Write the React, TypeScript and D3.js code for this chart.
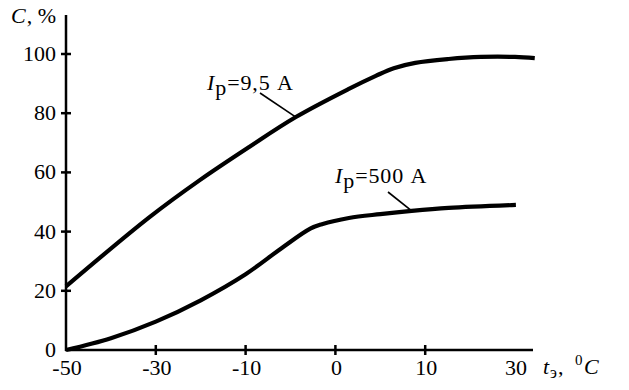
import React, { useEffect, useRef } from "react";
import * as d3 from "d3";

// x is the position along the (unevenly labelled) temperature axis, in tick steps
const xTickLabels = ["-50", "-30", "-10", "0", "10", "30"];
const yTicks = [0, 20, 40, 60, 80, 100];

// I_p = 9,5 A
const lowCurrentX = [0, 0.93, 1.49, 2.04, 2.56, 3.15, 3.45, 3.65, 3.89, 4.26, 4.62, 5.0, 5.22];
const lowCurrentC = [21.5, 44.9, 57.4, 68.6, 78.7, 88.2, 92.6, 95.2, 97.0, 98.3, 99.0, 99.0, 98.6];

// I_p = 500 A
const highCurrentX = [0, 0.5, 1.0, 1.5, 2.0, 2.4, 2.72, 2.85, 3.15, 3.5, 3.85, 4.26, 5.01];
const highCurrentC = [0, 4.0, 9.6, 16.8, 25.6, 34.4, 41.0, 42.5, 44.6, 45.9, 47.0, 48.0, 49.0];

const W = 629;
const H = 390;
const font = "Liberation Serif";

export default function App() {
  const ref = useRef<SVGSVGElement>(null);

  useEffect(() => {
    const svg = d3.select(ref.current);
    svg.selectAll("*").remove();

    const x = d3.scaleLinear().domain([0, 5]).range([66, 515]);
    const y = d3.scaleLinear().domain([0, 100]).range([350, 54]);

    const g = svg.append("g")
      .style("font-family", font)
      .style("font-size", "22px")
      .attr("fill", "#000");

    // axes
    g.append("line")
      .attr("x1", x(0)).attr("x2", x(0))
      .attr("y1", 15).attr("y2", y(0) + 1)
      .attr("stroke", "#000").attr("stroke-width", 2.5);
    g.append("line")
      .attr("x1", x(0) - 1).attr("x2", 533)
      .attr("y1", y(0)).attr("y2", y(0))
      .attr("stroke", "#000").attr("stroke-width", 2.5);

    yTicks.forEach((t) => {
      if (t > 0) {
        g.append("line")
          .attr("x1", x(0) - 5).attr("x2", x(0) + 5)
          .attr("y1", y(t)).attr("y2", y(t))
          .attr("stroke", "#000").attr("stroke-width", 2.5);
      }
      g.append("text")
        .attr("x", 56).attr("y", y(t) + 7)
        .attr("text-anchor", "end")
        .text(t);
    });

    xTickLabels.forEach((lab, i) => {
      if (i > 0 && i < xTickLabels.length - 1) {
        g.append("line")
          .attr("x1", x(i)).attr("x2", x(i))
          .attr("y1", y(0) - 5).attr("y2", y(0) + 5)
          .attr("stroke", "#000").attr("stroke-width", 2.5);
      }
      g.append("text")
        .attr("x", x(i) + 1).attr("y", 375)
        .attr("text-anchor", "middle")
        .text(lab);
    });

    // axis titles
    const yt = g.append("text").attr("x", 11).attr("y", 23);
    yt.append("tspan").style("font-style", "italic").text("C");
    yt.append("tspan").attr("dx", 1).text(", %");

    const xt = g.append("text").attr("y", 374);
    xt.append("tspan").attr("x", 543).style("font-style", "italic").text("t");
    xt.append("tspan").attr("x", 550).style("font-size", "16px").attr("dy", 4).text("э");
    xt.append("tspan").attr("x", 558).attr("dy", -4).text(",");
    xt.append("tspan").attr("x", 575).style("font-size", "15px").attr("dy", -9).text("0");
    xt.append("tspan").attr("x", 584).style("font-style", "italic").attr("dy", 9).text("C");

    // curves
    const line = d3.line<[number, number]>()
      .x((d) => x(d[0]))
      .y((d) => y(d[1]))
      .curve(d3.curveCatmullRom.alpha(0.5));

    const series = [
      lowCurrentX.map((v, i) => [v, lowCurrentC[i]] as [number, number]),
      highCurrentX.map((v, i) => [v, highCurrentC[i]] as [number, number]),
    ];

    g.selectAll("path.curve")
      .data(series)
      .enter()
      .append("path")
      .attr("class", "curve")
      .attr("d", (d) => line(d))
      .attr("fill", "none")
      .attr("stroke", "#000")
      .attr("stroke-width", 4.2)
      .attr("stroke-linecap", "butt");

    // labels with leader lines
    const labels = [
      { text: "=9,5 A", tx: 207, ty: 90, lx: 260, ly: 93, at: series[0][4] },
      { text: "=500 A", tx: 335, ty: 183, lx: 388, ly: 192, at: series[1][10] },
    ];
    labels.forEach((l) => {
      g.append("line")
        .attr("x1", l.lx).attr("y1", l.ly)
        .attr("x2", x(l.at[0])).attr("y2", y(l.at[1]))
        .attr("stroke", "#000").attr("stroke-width", 1.6);
      const t = g.append("text")
        .attr("x", l.tx).attr("y", l.ty)
        .style("letter-spacing", "0.9px");
      t.append("tspan").style("font-style", "italic").text("I");
      t.append("tspan").attr("dy", 5).text("р");
      t.append("tspan").attr("dy", -5).text(l.text);
    });
  }, []);

  return (
    <svg
      ref={ref}
      width={W}
      height={H}
      style={{ position: "absolute", left: 0, top: 0, background: "#fff" }}
    />
  );
}
